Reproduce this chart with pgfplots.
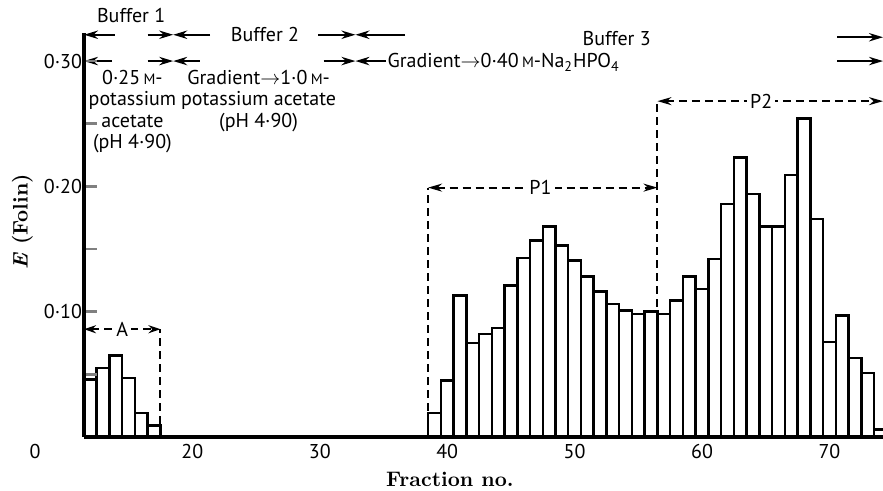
\documentclass[border=0pt]{standalone}
\usepackage{fontspec}
\usepackage{pgfplots}
\pgfplotsset{compat=1.18}
\usetikzlibrary{arrows.meta}
\newfontfamily\gill{PT Sans}
\newcommand{\molar}{{\fontsize{7.5}{8}\selectfont M}}
\begin{document}
\begin{tikzpicture}
\path[use as bounding box] (-42pt,-27pt) rectangle (399.5pt,218.5pt);
\tikzset{
  arr/.style={-{Stealth[length=7pt,width=4.2pt]}, line width=1pt},
  dsh/.style={line width=1pt, dash pattern=on 4pt off 2.5pt},
  gtxt/.style={font=\gill\fontsize{10}{10.75}\selectfont},
}
\begin{axis}[
  at={(0,0)}, anchor=south west,
  scale only axis, width=399.5pt, height=201.75pt,
  xmin=11.5, xmax=74.2, ymin=0, ymax=0.322,
  axis x line=bottom, axis y line=left,
  axis line style={-, line width=1.6pt},
  axis on top,
  clip mode=individual,
  xtick={20,30,40,50,60,70},
  xtick style={draw=none},
  ytick={0.1,0.2,0.3},
  yticklabels={0·10,0·20,0·30},
  minor ytick={0.05,0.15,0.25},
  ytick style={line width=1.3pt},
  tick align=inside,
  major tick length=6.5pt, minor tick length=6.5pt,
  /pgf/number format/assume math mode=true,
  ticklabel style={font=\gill\fontsize{10}{12}\selectfont},
  yticklabel style={xshift=2.5pt},
  ylabel={\textbf{\textit{E}} (Folin)},
  ylabel style={font=\bfseries\fontsize{10.5}{13}\selectfont, at={(axis description cs:-0.077,0.533)}, anchor=center},
  xlabel={Fraction no.},
  xlabel style={font=\bfseries\fontsize{10.5}{13}\selectfont, at={(ticklabel cs:0.458)}},
]
\addplot[ybar, bar width=1, fill=white, draw=black, line width=1.25pt] coordinates {
(12,0.046) (13,0.055) (14,0.065) (15,0.047) (16,0.019) (17,0.009)
(39,0.019) (40,0.045) (41,0.113) (42,0.075) (43,0.082) (44,0.087)
(45,0.121) (46,0.143) (47,0.157) (48,0.168) (49,0.153) (50,0.141)
(51,0.128) (52,0.116) (53,0.106) (54,0.101) (55,0.098) (56,0.100)
(57,0.098) (58,0.109) (59,0.128) (60,0.118) (61,0.142) (62,0.186)
(63,0.223) (64,0.194) (65,0.168) (66,0.168) (67,0.209) (68,0.254)
(69,0.174) (70,0.076) (71,0.097) (72,0.063) (73,0.051) (74,0.006)
};
% row 1
\draw[arr] (13.9,0.321) -- (11.5,0.321);
\node[gtxt] at (15.2,0.336) {Buffer 1};
\draw[arr] (16.5,0.321) -- (18.5,0.321);
\draw[arr] (21.4,0.321) -- (18.5,0.321);
\node[gtxt] at (25.7,0.321) {Buffer 2};
\draw[arr] (29.9,0.321) -- (32.8,0.321);
\draw[arr] (36.7,0.321) -- (32.8,0.321);
\node[gtxt] at (53.3,0.318) {Buffer 3};
\draw[arr] (70.6,0.319) -- (74.2,0.319);
% row 2
\draw[arr] (13.7,0.3) -- (11.5,0.3);
\draw[arr] (16.5,0.3) -- (18.5,0.3);
\draw[arr] (20.6,0.3) -- (18.5,0.3);
\draw[arr] (30.3,0.3) -- (32.8,0.3);
\draw[arr] (35.2,0.3) -- (32.8,0.3);
\node[gtxt, anchor=base west, inner sep=0pt] at (35.3,0.2945) {Gradient$\rightarrow$0·40\,\molar-Na\textsubscript{2}HPO\textsubscript{4}};
\draw[arr] (70.6,0.3) -- (74.2,0.3);
% text blocks
\node[gtxt, align=center, anchor=north, inner sep=0pt] at (15.3,0.293) {0·25\,\molar-\\potassium\\acetate\\(pH 4·90)};
\node[gtxt, align=center, anchor=north, inner sep=0pt] at (25.2,0.293) {Gradient$\rightarrow$1·0\,\molar-\\potassium acetate\\(pH 4·90)};
% A bracket
\draw[dsh] (17.5,0) -- (17.5,0.086);
\draw[dsh, {Stealth[length=6pt,width=4pt]}-{Stealth[length=6pt,width=4pt]}] (11.5,0.086) -- node[gtxt, fill=white, inner sep=1.5pt] {A} (17.5,0.086);
% P1 bracket
\draw[dsh] (38.5,0) -- (38.5,0.199);
\draw[dsh, {Stealth[length=7pt,width=4pt]}-{Stealth[length=7pt,width=4pt]}] (38.5,0.199) -- node[gtxt, fill=white, inner sep=1.5pt, pos=0.49] {P1} (56.5,0.199);
% P2 bracket
\draw[dsh] (56.5,0) -- (56.5,0.268);
\draw[dsh, {Stealth[length=7pt,width=4pt]}-{Stealth[length=7pt,width=4pt]}] (56.5,0.268) -- node[gtxt, fill=white, inner sep=1.5pt, pos=0.46] {P2} (74.2,0.268);
% zero label
\node[font=\gill\fontsize{10}{12}\selectfont] at (rel axis cs:0,0) [xshift=-24.5pt, yshift=-7.5pt] {0};
\end{axis}
\end{tikzpicture}
\end{document}
